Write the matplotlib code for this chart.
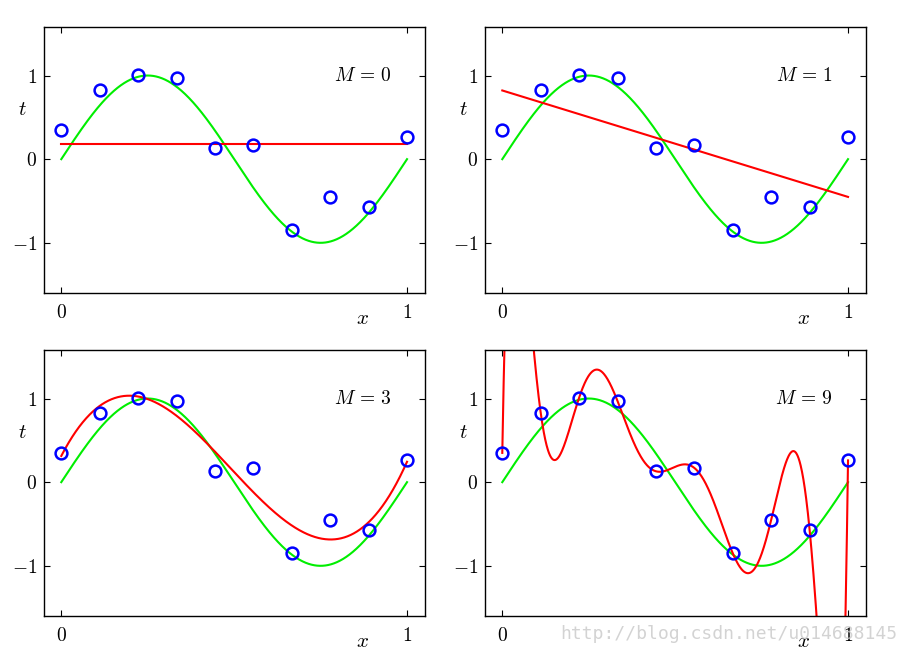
import numpy as np
import matplotlib
matplotlib.use("Agg")
from matplotlib import pyplot as plt

plt.rcParams['mathtext.fontset'] = 'cm'
plt.rcParams['font.family'] = 'serif'

# titik data (x dan target t)
x_data = np.linspace(0, 1, 10)
t_data = [0.35, 0.83, 1.01, 0.97, 0.13, 0.17, -0.85, -0.45, -0.57, 0.26]
orde = [0, 1, 3, 9]

xs = np.linspace(0, 1, 1000)

fig = plt.figure(figsize=(9.06, 6.54), dpi=100)
posisi = [(44, 27), (485, 27), (44, 350), (485, 350)]

for (px, py), M in zip(posisi, orde):
    ax = fig.add_axes([px / 906, 1 - (py + 266) / 654, 381 / 906, 266 / 654])
    # kurva asli sin(2 pi x)
    ax.plot(xs, np.sin(2 * np.pi * xs), color='#00ee00', lw=1.5)
    # polinomial orde M
    koef = np.polyfit(x_data, t_data, M)
    ax.plot(xs, np.polyval(koef, xs), color='red', lw=1.5)
    ax.plot(x_data, t_data, 'o', mfc='none', mec='blue', mew=1.8, ms=8.5)

    ax.set_xlim(-0.05, 1.052)
    ax.set_ylim(-1.6, 1.58)
    ax.set_xticks([0, 1])
    ax.set_xticklabels(['$0$', '$1$'])
    ax.set_yticks([-1, 0, 1])
    ax.set_yticklabels(['$-1$', '$0$', '$1$'])
    ax.tick_params(direction='in', top=True, right=True, labelsize=14,
                   length=4, width=0.8)
    ax.tick_params(axis='x', pad=8)
    ax.tick_params(axis='y', pad=5)
    for s in ax.spines.values():
        s.set_linewidth(1.0)

    ax.text(-0.113, 0.59, '$t$', fontsize=15, ha='center', va='center')
    ax.text(0.87, -1.9, '$x$', fontsize=15, ha='center', va='center',
            clip_on=False)
    ax.text(0.955, 1.0, r'$M\,=\,%d$' % M, fontsize=14, ha='right', va='center')

fig.text(0.99, 0.03, 'http://blog.csdn.net/u014688145', fontsize=13,
         family='DejaVu Sans Mono', color='#c8c8c8', alpha=0.8, ha='right',
         va='center')

fig.savefig('out.png', dpi=100)
